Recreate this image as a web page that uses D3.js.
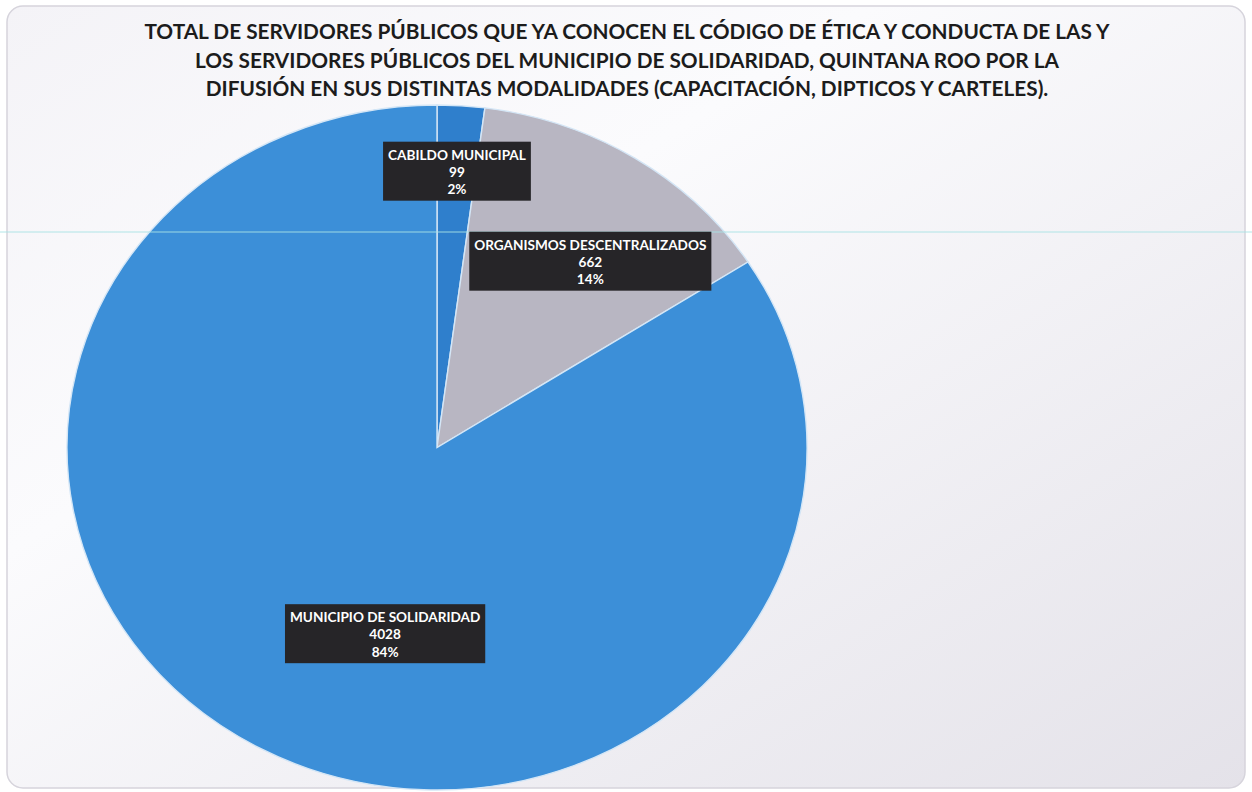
<!DOCTYPE html>
<html>
<head>
<meta charset="utf-8">
<script src="https://cdn.jsdelivr.net/npm/d3@7"></script>
<style>
  html, body { margin: 0; padding: 0; background: #ffffff; }
  svg { display: block; }
</style>
</head>
<body>
<svg id="chart" width="1252" height="792"></svg>
<script>
// ---- data ----
const categories = ["CABILDO MUNICIPAL", "ORGANISMOS DESCENTRALIZADOS", "MUNICIPIO DE SOLIDARIDAD"];
const values = [99, 662, 4028];
const percentLabels = ["2%", "14%", "84%"];
const colors = ["#2f7fcc", "#b8b6c2", "#3c8fd8"];
const titleLines = [
  "TOTAL DE SERVIDORES PÚBLICOS QUE YA CONOCEN EL CÓDIGO DE ÉTICA Y CONDUCTA DE LAS Y",
  "LOS SERVIDORES PÚBLICOS DEL MUNICIPIO DE SOLIDARIDAD, QUINTANA ROO POR LA",
  "DIFUSIÓN EN SUS DISTINTAS MODALIDADES (CAPACITACIÓN, DIPTICOS Y CARTELES)."
];
// label placement: angle shift (deg) from slice mid and radius fraction
const labelLayout = [
  { dAngle: 0.1, rFrac: 0.81 },
  { dAngle: 4.9, rFrac: 0.685 },
  { dAngle: -14.1, rFrac: 0.56 }
];

const W = 1252, H = 792;
const svg = d3.select("#chart");
const defs = svg.append("defs");

// background card
const bg = defs.append("linearGradient").attr("id", "bgGrad")
  .attr("x1", "0").attr("y1", "0").attr("x2", "1").attr("y2", "1");
bg.append("stop").attr("offset", "0").attr("stop-color", "#f4f3f7");
bg.append("stop").attr("offset", "0.35").attr("stop-color", "#fbfbfd");
bg.append("stop").attr("offset", "1").attr("stop-color", "#e4e2e9");

svg.append("rect").attr("width", W).attr("height", H).attr("fill", "#ffffff");
svg.append("rect").attr("x", 7).attr("y", 6).attr("width", W - 14).attr("height", H - 10)
  .attr("rx", 16).attr("fill", "url(#bgGrad)").attr("stroke", "#d6d4dc").attr("stroke-width", 1.5);

// title
const title = svg.append("text")
  .attr("x", 627).attr("text-anchor", "middle")
  .style("font-family", "Lato, 'Open Sans', sans-serif")
  .style("font-weight", "bold").style("font-size", "20.8px").attr("fill", "#1c1c1c");
titleLines.forEach((t, i) => {
  title.append("tspan").attr("x", 627).attr("y", 39 + i * 28.5).text(t);
});

// pie
const cx = 437, cy = 447.5, rx = 370, ry = 342.5;
const pie = d3.pie().sort(null).value(d => d)(values);
const arc = d3.arc().innerRadius(0).outerRadius(rx);

const g = svg.append("g").attr("transform", `translate(${cx},${cy}) scale(1,${ry / rx})`);
g.selectAll("path.slice").data(pie).enter().append("path")
  .attr("class", "slice")
  .attr("d", arc)
  .attr("fill", (d, i) => colors[i])
  .attr("stroke", "#d4e6f6").attr("stroke-width", 1.4)
  .attr("vector-effect", "non-scaling-stroke");

// scan line artifact
svg.append("line").attr("x1", 0).attr("x2", W).attr("y1", 232).attr("y2", 232)
  .attr("stroke", "#a9e4e6").attr("stroke-width", 1).attr("opacity", 0.9);

// labels
const lg = svg.append("g");
pie.forEach((d, i) => {
  const mid = (d.startAngle + d.endAngle) / 2 + labelLayout[i].dAngle * Math.PI / 180;
  const r = labelLayout[i].rFrac;
  const x = cx + Math.sin(mid) * rx * r;
  const y = cy - Math.cos(mid) * ry * r;
  const grp = lg.append("g").attr("transform", `translate(${x},${y})`);
  const box = grp.append("rect").attr("fill", "#262528");
  const lines = [categories[i], String(values[i]), percentLabels[i]];
  const txt = grp.append("text").attr("text-anchor", "middle")
    .style("font-family", "Lato, 'Open Sans', sans-serif")
    .style("font-weight", "bold").style("font-size", "13.6px").attr("fill", "#ffffff");
  lines.forEach((t, k) => {
    txt.append("tspan").attr("x", 0).attr("y", -14.5 + k * 17.3).attr("dominant-baseline", "middle").text(t);
  });
  const w = txt.node().getBBox().width + 10;
  box.attr("x", -w / 2).attr("y", -29).attr("width", w).attr("height", 59);
});
</script>
</body>
</html>
